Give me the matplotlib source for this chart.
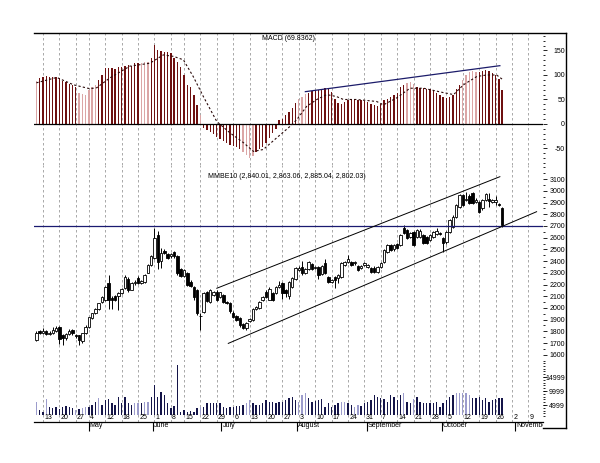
import matplotlib
matplotlib.use("Agg")
import matplotlib.pyplot as plt
import numpy as np
from matplotlib.lines import Line2D
from matplotlib.ticker import FixedLocator

plt.rcParams['font.family'] = ['Liberation Sans', 'DejaVu Sans']

# ---------------- data ----------------
opens = [1725, 1800, 1785, 1800, 1780, 1785, 1805, 1835, 1765, 1740, 1775, 1810, 1770, 1765, 1720, 1785,
         1840, 1915, 1955, 1990, 2050, 2070, 2215, 2085, 2100, 2100, 2125, 2170, 2250, 2155, 2215, 2255,
         2215, 2225, 2300, 2370, 2430, 2620, 2400, 2490, 2460, 2440, 2480, 2440, 2330, 2270, 2300, 2220,
         2180, 2150, 1930, 1965, 2135, 2050, 2110, 2135, 2095, 2110, 2050, 2040, 1960, 1930, 1910, 1860,
         1830, 1890, 1900, 1990, 2000, 2065, 2135, 2070, 2125, 2125, 2180, 2210, 2150, 2100, 2180, 2250,
         2325, 2350, 2300, 2335, 2375, 2340, 2350, 2290, 2385, 2265, 2225, 2265, 2255, 2265, 2370, 2390,
         2395, 2380, 2360, 2340, 2370, 2350, 2340, 2345, 2310, 2350, 2390, 2480, 2540, 2500, 2545, 2540,
         2680, 2665, 2610, 2650, 2605, 2610, 2620, 2605, 2580, 2610, 2630, 2640, 2600, 2560, 2650, 2690,
         2780, 2860, 2965, 2920, 2960, 2980, 2905, 2905, 2850, 2920, 2930, 2905, 2905, 2885, 2850]
highs = [1800, 1815, 1830, 1810, 1800, 1840, 1845, 1845, 1775, 1790, 1820, 1820, 1780, 1770, 1790, 1850,
         1925, 1960, 2000, 2045, 2100, 2190, 2280, 2100, 2110, 2135, 2170, 2280, 2260, 2220, 2235, 2270,
         2240, 2290, 2375, 2450, 2685, 2660, 2510, 2500, 2470, 2470, 2490, 2450, 2340, 2330, 2310, 2240,
         2190, 2160, 1960, 2140, 2145, 2160, 2145, 2150, 2140, 2120, 2060, 2050, 1970, 1940, 1920, 1870,
         1880, 1915, 2000, 2020, 2060, 2105, 2150, 2175, 2140, 2190, 2230, 2220, 2160, 2230, 2265, 2350,
         2360, 2400, 2340, 2400, 2385, 2360, 2360, 2370, 2420, 2275, 2245, 2275, 2290, 2395, 2405, 2450,
         2405, 2405, 2370, 2370, 2390, 2375, 2350, 2355, 2360, 2395, 2505, 2545, 2550, 2550, 2555, 2630,
         2710, 2675, 2650, 2660, 2675, 2670, 2630, 2615, 2630, 2655, 2680, 2650, 2610, 2660, 2760, 2790,
         2890, 2975, 2975, 2990, 2970, 2990, 2935, 2915, 2930, 2980, 2980, 2930, 2960, 2895, 2860]
lows = [1715, 1780, 1775, 1770, 1765, 1780, 1795, 1690, 1680, 1730, 1765, 1770, 1740, 1680, 1700, 1780,
        1830, 1905, 1945, 1985, 2040, 2060, 1990, 1990, 2060, 1980, 2115, 2160, 2140, 2150, 2200, 2205,
        2205, 2215, 2295, 2360, 2420, 2330, 2340, 2460, 2420, 2430, 2430, 2280, 2260, 2260, 2190, 2180,
        2070, 1940, 1810, 1955, 2050, 2040, 2100, 2060, 2085, 2040, 2030, 1960, 1910, 1890, 1840, 1820,
        1810, 1880, 1890, 1980, 1995, 2060, 2085, 2065, 2060, 2115, 2170, 2080, 2090, 2080, 2170, 2240,
        2315, 2285, 2290, 2325, 2325, 2330, 2250, 2280, 2290, 2210, 2215, 2170, 2210, 2255, 2360, 2380,
        2355, 2370, 2315, 2330, 2360, 2340, 2295, 2300, 2300, 2340, 2380, 2470, 2485, 2490, 2500, 2530,
        2630, 2585, 2600, 2530, 2595, 2600, 2545, 2545, 2570, 2600, 2620, 2625, 2480, 2550, 2640, 2680,
        2770, 2850, 2870, 2910, 2890, 2890, 2895, 2810, 2840, 2910, 2860, 2895, 2880, 2870, 2695]
closes = [1785, 1790, 1800, 1780, 1790, 1810, 1830, 1735, 1740, 1775, 1805, 1790, 1760, 1730, 1785, 1840,
          1920, 1955, 1990, 2040, 2095, 2180, 2070, 2065, 2065, 2125, 2160, 2265, 2155, 2210, 2225, 2215,
          2230, 2280, 2365, 2440, 2600, 2390, 2470, 2470, 2430, 2460, 2440, 2300, 2270, 2320, 2200, 2190,
          2090, 1960, 1935, 2125, 2060, 2150, 2135, 2070, 2135, 2050, 2040, 1970, 1920, 1900, 1850, 1830,
          1870, 1905, 1990, 2010, 2050, 2095, 2095, 2165, 2070, 2180, 2200, 2130, 2130, 2220, 2255, 2340,
          2345, 2295, 2330, 2390, 2335, 2350, 2285, 2360, 2300, 2220, 2235, 2240, 2280, 2385, 2395, 2420,
          2365, 2395, 2325, 2360, 2380, 2365, 2305, 2310, 2350, 2385, 2495, 2535, 2495, 2540, 2510, 2620,
          2640, 2595, 2640, 2540, 2665, 2660, 2555, 2555, 2620, 2645, 2660, 2635, 2555, 2650, 2750, 2780,
          2880, 2965, 2880, 2930, 2900, 2900, 2925, 2820, 2920, 2970, 2910, 2920, 2925, 2880, 2705]

macd_hist = [88, 94, 96, 97, 96, 96, 95, 94, 88, 86, 82, 79, 76, 64, 62, 60, 70, 76, 80, 90,
             100, 114, 115, 114, 113, 116, 117, 118, 120, 119, 124, 125, 125, 126, 127, 135, 162, 150, 148, 147,
             146, 144, 135, 127, 117, 100, 80, 75, 60, 38, 19, -8, -12, -16, -20, -26, -30, -34, -38, -42,
             -44, -46, -52, -58, -64, -69, -65, -58, -52, -46, -38, -28, -18, -10, 8, 10, 18, 24, 32, 43,
             50, 56, 62, 64, 67, 69, 70, 72, 73, 72, 66, 52, 42, 40, 44, 49, 50, 50, 49, 48,
             47, 44, 41, 39, 36, 40, 48, 52, 56, 60, 64, 75, 80, 84, 86, 82, 76, 74, 73, 72,
             72, 70, 64, 60, 56, 54, 56, 60, 72, 80, 90, 100, 106, 108, 106, 107, 108, 110, 108, 104,
             100, 92, 70]
macd_light = [0, 13, 14, 15, 16, 17, 18, 32, 33, 34, 50, 63, 64, 65, 66, 80, 81, 82, 113, 114, 115,
              130, 131, 132, 133, 134]
signal_x = [0, 6.2, 11.3, 16.3, 18.4, 22.4, 28.5, 34.6, 38.7, 41.8, 44.8, 47.8, 50.9, 55, 59, 63.1,
            66.2, 69.2, 73.3, 77.3, 79.4, 82.4, 85.5, 88.5, 91.5, 93.6, 97.6, 103.7, 105.8, 109.8,
            113.9, 118, 124.1, 127.2, 130.2, 134.3, 137.3, 140.3, 142.3]
signal_y = [84, 95, 80, 72, 74, 94, 118, 124, 141, 138, 131, 97, 56, 5, -18, -38, -56, -52, -28, -5,
            9, 36, 50, 60, 56, 50, 50, 46, 39, 53, 73, 73, 64, 60, 80, 97, 100, 100, 90]

volume = [6200, 3200, 2600, 7100, 4400, 3800, 4400, 3500, 4400, 4600, 4400, 3800, 3200, 3500, 3800, 4400,
          4400, 5000, 6200, 7400, 5000, 6800, 7100, 5600, 5000, 8000, 5600, 8000, 5600, 5000, 5800, 5600,
          5600, 6200, 6200, 8000, 12100, 8000, 9800, 8600, 5600, 3800, 4600, 19300, 2600, 3200, 2600, 3000,
          2400, 3800, 4400, 4400, 5600, 5800, 5800, 5600, 5600, 4400, 3800, 4400, 4400, 4600, 4600, 5000,
          5600, 6800, 5800, 5000, 5000, 5600, 6800, 6200, 6200, 5600, 6200, 6200, 6800, 7400, 8000, 6800,
          6200, 8600, 9400, 7400, 6200, 6500, 6800, 7100, 4400, 5600, 4400, 5000, 5600, 6200, 6200, 5600,
          5000, 4400, 5000, 4600, 5600, 6200, 6800, 8600, 8000, 7400, 7100, 6200, 8600, 8000, 6800, 8600,
          9200, 6200, 5600, 7100, 8000, 6200, 5600, 5800, 5600, 5600, 6200, 4400, 5600, 6800, 8000, 8600,
          9200, 9200, 9200, 9200, 8600, 7400, 7400, 8000, 6800, 7400, 6200, 6800, 7100, 7400, 7400]
volume_light = [0, 3, 12, 14, 15, 19, 30, 31, 33, 34, 50, 64, 65, 80, 81, 82, 93, 94, 97, 98, 112, 115,
                128, 129, 130, 131, 132]

week_pos = [2, 7, 12, 16, 21, 26, 31, 36, 41, 45, 50, 55, 60, 65, 70, 75, 80, 85, 90, 95, 100, 105,
            110, 115, 120, 125, 130, 135, 140, 145, 150]
week_labels = ['13', '20', '27', '4', '12', '18', '25', '1', '8', '15', '22', '29', '6', '13', '20', '27',
               '3', '10', '17', '24', '31', '7', '14', '21', '28', '5', '12', '19', '26', '2', '9']
month_pos = [16, 35.6, 56.4, 79.6, 100.8, 123.6, 146.0]
month_labels = ['May', 'June', 'July', 'August', 'September', 'October', 'November']

price_ticks = [1600, 1700, 1800, 1900, 2000, 2100, 2200, 2300, 2400, 2500, 2600, 2700, 2800, 2900, 3000, 3100]
macd_ticks = [-50, 0, 50, 100, 150]
vol_ticks = [4999, 9999, 14999]

resistance = 2700
upper_x, upper_y = [55, 141.3], [2168, 3121]
lower_x, lower_y = [58.5, 152.5], [1697, 2822]
trend_x, trend_y = [82, 141.3], [66, 119]

macd_title = 'MACD (69.8362)'
price_title = 'MMBE10 (2,840.01, 2,863.06, 2,885.04, 2,802.03)'

# ---------------- layout ----------------
W, H = 600, 463
fig = plt.figure(figsize=(6, 4.63), dpi=100)
fig.patch.set_facecolor('white')


def rect(x0, y0, x1, y1):
    return [x0 / W, 1 - y1 / H, (x1 - x0) / W, (y1 - y0) / H]


ax_m = fig.add_axes(rect(34, 33, 543, 165))
ax_p = fig.add_axes(rect(34, 165, 543, 362))
ax_v = fig.add_axes(rect(34, 362, 543, 422))
ax_d = fig.add_axes(rect(34, 422, 543, 433))

XL = (-0.73, 154.45)
x = np.arange(len(closes))
FS = 5
grid_kw = dict(color='#9a9a9a', lw=0.6, linestyles=(0, (3, 3)))

for ax in (ax_m, ax_p, ax_v, ax_d):
    ax.set_xlim(*XL)
    for s in ax.spines.values():
        s.set_visible(False)
    ax.set_xticks([])
    ax.patch.set_alpha(0)

for ax in (ax_m, ax_p, ax_v):
    ax.vlines(week_pos, 0, 1, transform=ax.get_xaxis_transform(), zorder=0, **grid_kw)


def right_ticks(ax, major, minor, pad_px=22, tick_px=4):
    ax.yaxis.tick_right()
    ax.yaxis.set_major_locator(FixedLocator(major))
    ax.yaxis.set_minor_locator(FixedLocator(minor))
    ax.tick_params(axis='y', which='major', length=tick_px * 0.72, width=0.6, labelsize=FS,
                   pad=(pad_px - tick_px) * 0.72, direction='out')
    ax.tick_params(axis='y', which='minor', length=1.5, width=0.6, direction='out')
    ax.set_yticklabels([str(t) for t in major])
    for lbl in ax.get_yticklabels():
        lbl.set_horizontalalignment('right')


# ---- MACD panel ----
ax_m.set_ylim(-83.7, 185.7)
hist_colors = ['#dba6a6' if i in macd_light else '#6e1010' for i in range(len(macd_hist))]
ax_m.bar(x, macd_hist, width=0.42, color=hist_colors, linewidth=0, zorder=2, antialiased=False)
ax_m.axhline(0, color='black', lw=0.9, zorder=3)
ax_m.plot(signal_x, signal_y, color='#2a0a0a', lw=0.8, ls=(0, (2, 2)), zorder=4)
ax_m.plot(trend_x, trend_y, color='#1c1c6a', lw=0.9, zorder=4)
right_ticks(ax_m, macd_ticks, [m for m in range(-80, 181, 10) if m not in macd_ticks])

# ---- Price panel ----
ax_p.set_ylim(1538, 3221)
ax_p.vlines(x, lows, highs, color='black', lw=0.7, zorder=2)
o = np.array(opens)
c = np.array(closes)
body_bottom = np.minimum(o, c)
body_h = np.maximum(np.abs(c - o), 2)
body_col = ['white' if cc >= oo else 'black' for oo, cc in zip(opens, closes)]
ax_p.bar(x, body_h, bottom=body_bottom, width=0.75, color=body_col, edgecolor='black',
         linewidth=0.6, zorder=3)
ax_p.axhline(resistance, color='#1a1a70', lw=0.9, zorder=4)
ax_p.plot(upper_x, upper_y, color='black', lw=0.7, zorder=4)
ax_p.plot(lower_x, lower_y, color='black', lw=0.7, zorder=4)
right_ticks(ax_p, price_ticks, [p for p in range(1550, 3201, 50) if p not in price_ticks])

# ---- Volume panel ----
VB = 1430
ax_v.set_ylim(-1072, 20356)
vol_colors = ['#9c9ccc' if i in volume_light else '#141448' for i in range(len(volume))]
ax_v.bar(x, np.array(volume) - VB, bottom=VB, width=0.42, color=vol_colors, linewidth=0, zorder=2,
         antialiased=False)
right_ticks(ax_v, vol_ticks, [v for v in range(1000, 20001, 1000) if v not in vol_ticks])
ax_v.spines['bottom'].set_visible(True)
ax_v.spines['bottom'].set_linewidth(0.9)
for p, lab in zip(week_pos, week_labels):
    ax_v.text(p + 0.35, 0.02, lab, transform=ax_v.get_xaxis_transform(), fontsize=FS,
              ha='left', va='bottom', clip_on=True)

# ---- Month axis ----
ax_d.set_ylim(0, 1)
ax_d.set_yticks([])
ax_d.vlines(month_pos, 0.2, 1, color='black', lw=0.8)
for p, lab in zip(month_pos, month_labels):
    ax_d.text(p + 0.3, 0.98, lab, fontsize=FS, ha='left', va='top', clip_on=True)

# ---- titles ----
fig.text(289 / W, 1 - 38 / H, macd_title, fontsize=FS, ha='center', va='center')
fig.text(287 / W, 1 - 177 / H, price_title, fontsize=FS, ha='center', va='center')

# ---- frame ----
fig.add_artist(Line2D([34 / W, 566 / W], [1 - 33 / H] * 2, color='black', lw=1))
fig.add_artist(Line2D([566 / W] * 2, [1 - 33 / H, 1 - 428 / H], color='black', lw=1))
fig.add_artist(Line2D([543 / W, 566 / W], [1 - 428 / H] * 2, color='black', lw=1))

fig.savefig('out.png', dpi=100)
